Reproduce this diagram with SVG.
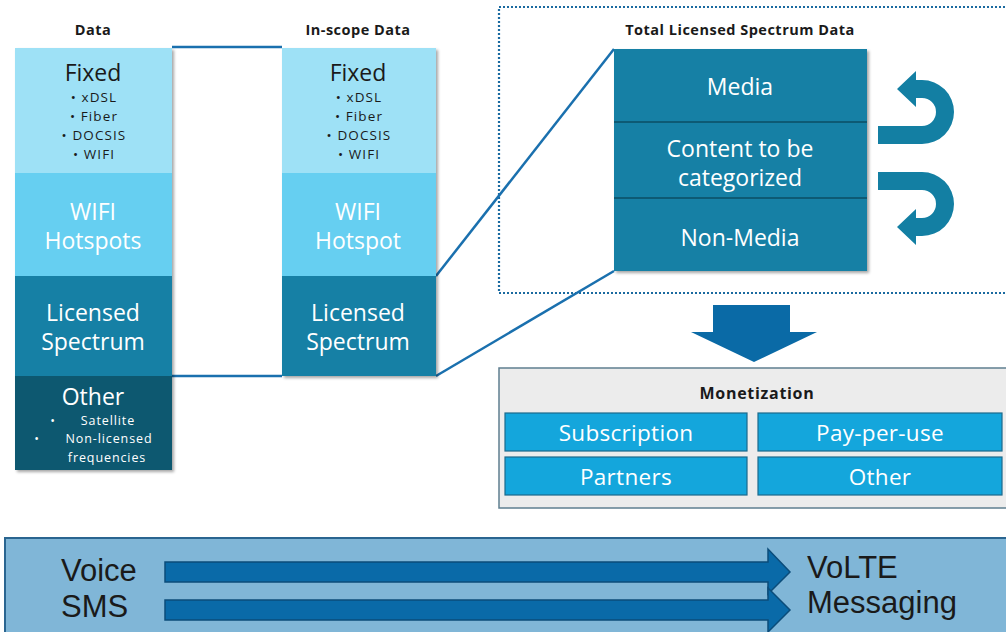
<svg xmlns="http://www.w3.org/2000/svg" width="1006" height="632" viewBox="0 0 1006 632">
<style>
.t{font-family:"Open Sans","DejaVu Sans",sans-serif;text-anchor:middle}
.hd{font-weight:bold;font-size:14.5px;letter-spacing:0.5px;fill:#1a1a1a}
.big{font-size:23px}
.w{fill:#ffffff}
.d{fill:#1a1a1a}
.sm{font-size:13.5px;letter-spacing:1.1px}
.xs{font-size:12.5px;letter-spacing:0.9px}
.conn{stroke:#1a70ae;stroke-width:2.5;fill:none}
.bt{fill:#14a6dc;stroke:#1c6a8c;stroke-width:1.2}
.btx{font-size:22.5px;letter-spacing:0.3px}
.bl{font-family:"Liberation Sans",Arial,sans-serif;font-size:31px;fill:#1a1a1a}
.ba{fill:#0a6aa8;stroke:#0b4c7a;stroke-width:1.5}
</style>
<defs>
<filter id="sh" x="-10%" y="-10%" width="130%" height="130%">
<feDropShadow dx="2" dy="2" stdDeviation="1.5" flood-color="#000" flood-opacity="0.35"/>
</filter>
</defs>
<rect width="1006" height="632" fill="#ffffff"/>

<!-- Dotted box -->
<rect id="spectrum-frame" x="499" y="7" width="520" height="286" fill="none" stroke="#1a6aa0" stroke-width="2.2" stroke-dasharray="2 2"/>

<g id="connectors">
<line class="conn" x1="172" y1="47" x2="282" y2="47"/>
<line class="conn" x1="172" y1="376" x2="282" y2="376"/>
<line class="conn" x1="436" y1="276" x2="614" y2="49"/>
<line class="conn" x1="436" y1="376" x2="614" y2="271"/>
</g>

<!-- Left column: Data -->
<g id="data-col">
<text class="t hd" x="93" y="35">Data</text>
<g filter="url(#sh)">
<rect x="15" y="48" width="157" height="125" fill="#9ee1f6"/>
<rect x="15" y="173" width="157" height="103" fill="#66cff1"/>
<rect x="15" y="276" width="157" height="100" fill="#1380a5"/>
<rect x="15" y="376" width="157" height="94" fill="#0c5870"/>
</g>
<text class="t big d" x="93" y="81">Fixed</text>
<text class="t sm d" x="94" y="102">•  xDSL</text>
<text class="t sm d" x="94" y="121">•  Fiber</text>
<text class="t sm d" x="94" y="140">•  DOCSIS</text>
<text class="t sm d" x="94" y="159">•  WIFI</text>
<text class="t big w" x="93" y="220">WIFI</text>
<text class="t big w" x="93" y="249">Hotspots</text>
<text class="t big w" x="93" y="321">Licensed</text>
<text class="t big w" x="93" y="350">Spectrum</text>
<text class="t big w" x="93" y="405">Other</text>
<text class="t xs w" x="53" y="425">•</text>
<text class="t xs w" x="108" y="425">Satellite</text>
<text class="t xs w" x="37" y="443">•</text>
<text class="t xs w" x="109" y="443">Non-licensed</text>
<text class="t xs w" x="107" y="462">frequencies</text>
</g>

<!-- Middle column: In-scope Data -->
<g id="inscope-col">
<text class="t hd" x="358" y="35">In-scope Data</text>
<g filter="url(#sh)">
<rect x="282" y="48" width="154" height="125" fill="#9ee1f6"/>
<rect x="282" y="173" width="154" height="103" fill="#66cff1"/>
<rect x="282" y="276" width="154" height="100" fill="#1380a5"/>
</g>
<text class="t big d" x="358" y="81">Fixed</text>
<text class="t sm d" x="359" y="102">•  xDSL</text>
<text class="t sm d" x="359" y="121">•  Fiber</text>
<text class="t sm d" x="359" y="140">•  DOCSIS</text>
<text class="t sm d" x="359" y="159">•  WIFI</text>
<text class="t big w" x="358" y="220">WIFI</text>
<text class="t big w" x="358" y="249">Hotspot</text>
<text class="t big w" x="358" y="321">Licensed</text>
<text class="t big w" x="358" y="350">Spectrum</text>
</g>

<!-- Right: Total Licensed Spectrum Data -->
<g id="total-spectrum">
<text class="t hd" x="740" y="35">Total Licensed Spectrum Data</text>
<rect x="614" y="49" width="253" height="222" fill="#1380a5" filter="url(#sh)"/>
<line x1="614" y1="122" x2="867" y2="122" stroke="#0d5a74" stroke-width="2"/>
<line x1="614" y1="198" x2="867" y2="198" stroke="#0d5a74" stroke-width="2"/>
<text class="t big w" x="740" y="95">Media</text>
<text class="t big w" x="740" y="157">Content to be</text>
<text class="t big w" x="740" y="186">categorized</text>
<text class="t big w" x="740" y="246">Non-Media</text>
</g>

<!-- Curved arrows -->
<g id="loop-arrows" fill="#137fa3">
<path d="M 878 126 L 922 126 A 14 14 0 0 0 922 98 L 916 98 L 916 107 L 897 89 L 916 71 L 916 80 L 922 80 A 32 32 0 0 1 922 144 L 878 144 Z"/>
<path d="M 878 172 L 922 172 A 32 32 0 0 1 922 236 L 916 236 L 916 245 L 897 227 L 916 209 L 916 218 L 922 218 A 14 14 0 0 0 922 190 L 878 190 Z"/>
</g>

<!-- Down arrow -->
<polygon id="down-arrow" points="713,305 790,305 790,332 817,332 754,362 691,332 713,332" fill="#0a6aa6"/>

<!-- Monetization -->
<g id="monetization">
<rect x="499" y="368" width="520" height="140" fill="#ececec" stroke="#5f7f90" stroke-width="1.5"/>
<text class="t" x="757" y="399" style="font-weight:bold;font-size:16px;letter-spacing:0.7px;fill:#1a1a1a">Monetization</text>
<rect class="bt" x="505" y="413" width="242" height="38"/>
<rect class="bt" x="758" y="413" width="244" height="38"/>
<rect class="bt" x="505" y="457" width="242" height="38"/>
<rect class="bt" x="758" y="457" width="244" height="38"/>
<text class="t w btx" x="626" y="441">Subscription</text>
<text class="t w btx" x="880" y="441">Pay-per-use</text>
<text class="t w btx" x="626" y="485">Partners</text>
<text class="t w btx" x="880" y="485">Other</text>
</g>

<!-- Bottom bar -->
<g id="bottom-bar">
<rect x="5" y="538" width="1010" height="100" fill="#80b6d7" stroke="#2a6590" stroke-width="2"/>
<polygon class="ba" points="165,562 768,562 768,549 790,572 768,594 768,582 165,582"/>
<polygon class="ba" points="165,600 768,600 768,588 790,610 768,632 768,620 165,620"/>
<text class="bl" x="61" y="581">Voice</text>
<text class="bl" x="61" y="617">SMS</text>
<text class="bl" x="807" y="578">VoLTE</text>
<text class="bl" x="807" y="613">Messaging</text>
</g>
</svg>
